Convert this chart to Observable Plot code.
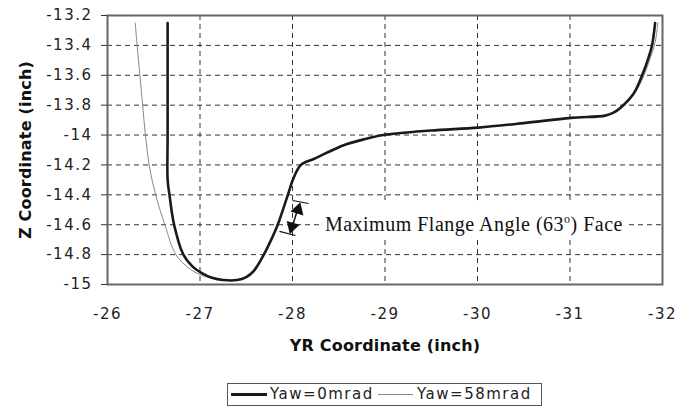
<!DOCTYPE html>
<html><head><meta charset="utf-8">
<script src="https://cdn.jsdelivr.net/npm/d3@7"></script>
<script src="https://cdn.jsdelivr.net/npm/@observablehq/plot@0.6"></script>
<style>
body{margin:0;background:#fff;}
#chart{position:relative;width:679px;height:415px;overflow:hidden;}
.legend{position:absolute;left:227px;top:383px;width:315px;height:23px;border:1px solid #555;box-sizing:border-box;font-family:"DejaVu Sans";font-size:15px;letter-spacing:1.5px;color:#222;line-height:21px;}
.legend .sw{position:absolute;}
.legend .lb{position:absolute;top:0;white-space:nowrap;}
</style>
</head><body>
<div id="chart"></div>
<script>
// ---- data ----
const xTicks = [-26, -27, -28, -29, -30, -31, -32];
const yTicks = [-15, -14.8, -14.6, -14.4, -14.2, -14, -13.8, -13.6, -13.4, -13.2];
const seriesNames = ["Yaw=0mrad", "Yaw=58mrad"];
const xTitle = "YR Coordinate (inch)";
const yTitle = "Z Coordinate (inch)";

// Yaw = 0 mrad (black)
const yaw0YR = [-26.65, -26.65, -26.65, -26.65, -26.67, -26.72, -26.82, -26.92, -27.01, -27.13, -27.25, -27.40, -27.50, -27.58, -27.69, -27.77, -27.84, -27.95, -28.01, -28.09, -28.23, -28.40, -28.59, -28.80, -28.98, -29.49, -30.01, -30.50, -31.01, -31.38, -31.47, -31.55, -31.69, -31.78, -31.85, -31.89, -31.92];
const yaw0Z  = [-13.25, -13.60, -14.00, -14.30, -14.40, -14.60, -14.80, -14.88, -14.92, -14.955, -14.97, -14.97, -14.95, -14.91, -14.80, -14.70, -14.60, -14.40, -14.29, -14.20, -14.16, -14.11, -14.06, -14.025, -14.00, -13.97, -13.95, -13.92, -13.885, -13.87, -13.85, -13.815, -13.72, -13.60, -13.48, -13.39, -13.25];

// Yaw = 58 mrad (grey)
const yaw58YR = [-26.30, -26.32, -26.35, -26.38, -26.41, -26.45, -26.52, -26.62, -26.74, -26.90, -27.05, -27.25, -27.40, -27.50, -27.58, -27.69, -27.84, -27.95, -28.09, -28.23, -28.59, -28.98, -29.49, -30.01, -30.50, -31.01, -31.38, -31.55, -31.70, -31.80, -31.87, -31.92, -31.95];
const yaw58Z  = [-13.25, -13.40, -13.60, -13.80, -14.00, -14.20, -14.40, -14.60, -14.80, -14.90, -14.945, -14.97, -14.97, -14.95, -14.91, -14.80, -14.60, -14.40, -14.20, -14.16, -14.06, -14.00, -13.97, -13.95, -13.92, -13.885, -13.87, -13.82, -13.72, -13.60, -13.48, -13.38, -13.25];

// annotation
const annotationText = ["Maximum Flange Angle (63°) Face"];
const annotationAt = [{x: -28.35, y: -14.6}];
const annotationBox = [{x1: -28.314, x2: -31.632, y1: -14.465, y2: -14.699}];
const limitTicks = [
  {x1: -28.0, y1: -14.438, x2: -28.173, y2: -14.458},
  {x1: -27.859, y1: -14.645, x2: -28.032, y2: -14.672}
];
const arrowShaft = [{x1: -28.065, y1: -14.478, x2: -27.978, y2: -14.652}];
const arrowHeads = [
  {x: -28.06, y: -14.50, angle: 16.5},
  {x: -27.995, y: -14.612, angle: 196.5}
];

const yaw0 = yaw0YR.map((x, i) => ({x, z: yaw0Z[i]}));
const yaw58 = yaw58YR.map((x, i) => ({x, z: yaw58Z[i]}));
const grid = {stroke: "#333", strokeOpacity: 1, strokeWidth: 1, strokeDasharray: "5,4"};

const plot = Plot.plot({
  width: 679, height: 372,
  marginLeft: 107, marginRight: 17, marginTop: 15, marginBottom: 88,
  style: {fontFamily: "DejaVu Sans", fontSize: "15px", color: "#222", background: "#fff", letterSpacing: "1.5px"},
  x: {domain: [-26, -32]},
  y: {domain: [-15, -13.2]},
  marks: [
    Plot.gridX({ticks: xTicks, ...grid}),
    Plot.gridY({ticks: yTicks, ...grid}),
    Plot.rect(annotationBox, {x1: "x1", x2: "x2", y1: "y1", y2: "y2", fill: "white"}),
    Plot.line(yaw58, {x: "x", y: "z", stroke: "#888", strokeWidth: 1, curve: "catmull-rom"}),
    Plot.line(yaw0, {x: "x", y: "z", stroke: "#1a1a1a", strokeWidth: 2.6, curve: "catmull-rom"}),
    Plot.link(limitTicks, {x1: "x1", y1: "y1", x2: "x2", y2: "y2", stroke: "#111", strokeWidth: 1.2}),
    Plot.link(arrowShaft, {x1: "x1", y1: "y1", x2: "x2", y2: "y2", stroke: "#111", strokeWidth: 1.5}),
    Plot.dot(arrowHeads, {x: "x", y: "y", rotate: "angle", symbol: "triangle", r: 5, fill: "#111", stroke: "none"}),
    Plot.text(annotationAt, {x: "x", y: "y", text: () => annotationText[0], textAnchor: "start", fontFamily: "Liberation Serif", fontSize: 20, fill: "#111"}),
    Plot.frame({stroke: "#666", strokeWidth: 2}),
    Plot.axisY({ticks: yTicks, tickSize: 6, tickPadding: 9, tickFormat: d => String(d), label: null, stroke: "#333"}),
    Plot.axisX({ticks: xTicks, tickSize: 0, tickPadding: 24, tickFormat: d => String(d), label: null}),
    Plot.text([xTitle], {frameAnchor: "bottom", dy: 66, fontWeight: "bold", fontSize: 16, fill: "#111"}),
    Plot.text([yTitle], {frameAnchor: "left", fontWeight: "bold", fontSize: 16, fill: "#111"})
  ]
});

// styling tweaks
d3.select(plot).selectAll("text").each(function() {
  const t = d3.select(this);
  const s = this.textContent;
  if (s === xTitle) t.style("letter-spacing", "0.2px");
  if (s === yTitle) {
    t.style("letter-spacing", "0.2px")
      .attr("x", null).attr("y", null).attr("dx", null)
      .attr("text-anchor", "middle").attr("dy", "0.32em")
      .attr("transform", "translate(25,149.5) rotate(-90)");
  }
  if (s === annotationText[0]) {
    t.style("letter-spacing", "0.5px");
    const parts = s.split("°");
    t.text(null);
    t.append("tspan").text(parts[0]);
    t.append("tspan").attr("dy", "-8").attr("font-size", "12").text("o");
    t.append("tspan").attr("dy", "8").text(parts[1]);
  }
});

const chart = document.getElementById("chart");
chart.appendChild(plot);

// legend
const legend = document.createElement("div");
legend.className = "legend";
const sw0 = document.createElement("div");
sw0.className = "sw";
Object.assign(sw0.style, {left: "3px", top: "9px", width: "36px", height: "3px", background: "#1a1a1a"});
const lb0 = document.createElement("div");
lb0.className = "lb"; lb0.style.left = "42px"; lb0.textContent = seriesNames[0];
const sw1 = document.createElement("div");
sw1.className = "sw";
Object.assign(sw1.style, {left: "150px", top: "10px", width: "35px", height: "1px", background: "#888"});
const lb1 = document.createElement("div");
lb1.className = "lb"; lb1.style.left = "189px"; lb1.textContent = seriesNames[1];
legend.append(sw0, lb0, sw1, lb1);
chart.appendChild(legend);
</script>
</body></html>
